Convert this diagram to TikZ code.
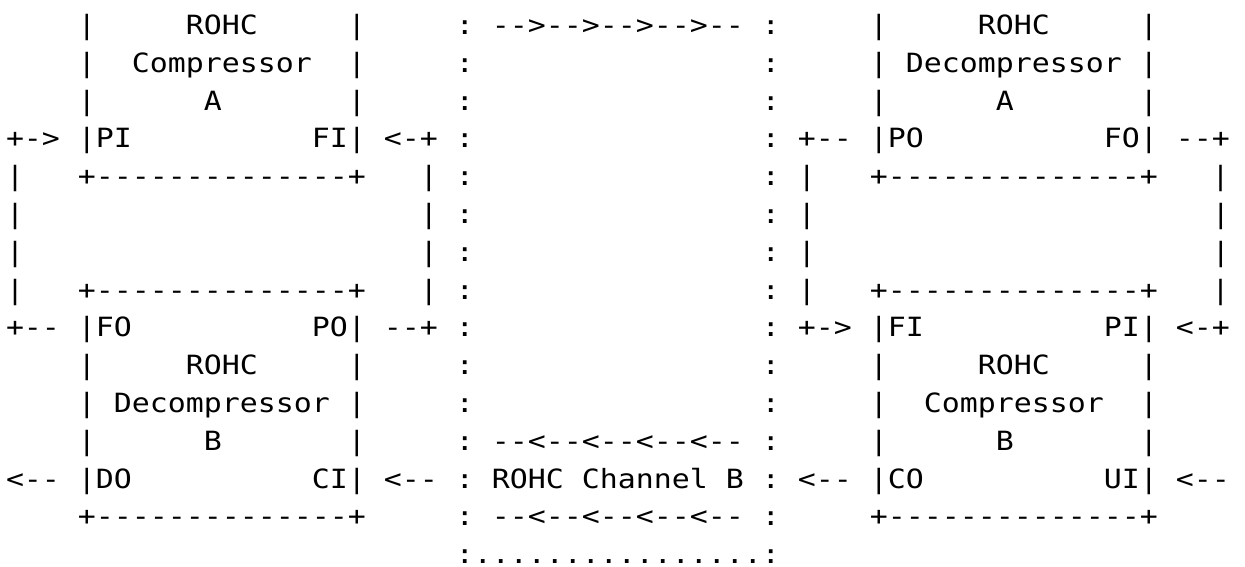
\documentclass[tikz,border=0pt]{standalone}
\usepackage{fontspec}
\setmonofont{DejaVu Sans Mono}[FakeStretch=1.128]
\begingroup
\obeyspaces%
\gdef\lineA{    |     ROHC     |     : -->-->-->-->-- :     |     ROHC     |}%
\gdef\lineB{    |  Compressor  |     :                :     | Decompressor |}%
\gdef\lineC{    |      A       |     :                :     |      A       |}%
\gdef\lineD{+-> |PI          FI| <-+ :                : +-- |PO          FO| --+}%
\gdef\lineE{|   +--------------+   | :                : |   +--------------+   |}%
\gdef\lineF{|                      | :                : |                      |}%
\gdef\lineG{+-- |FO          PO| --+ :                : +-> |FI          PI| <-+}%
\gdef\lineH{    |     ROHC     |     :                :     |     ROHC     |}%
\gdef\lineI{    | Decompressor |     :                :     |  Compressor  |}%
\gdef\lineJ{    |      B       |     : --<--<--<--<-- :     |      B       |}%
\gdef\lineK{<-- |DO          CI| <-- : ROHC Channel B : <-- |CO          UI| <--}%
\gdef\lineL{    +--------------+     : --<--<--<--<-- :     +--------------+}%
\gdef\lineM{                         :................:}%
\endgroup
\tikzset{ascii/.style={anchor=base west, inner sep=0pt, outer sep=0pt,
  font=\ttfamily\frenchspacing\fontsize{26.5}{32}\selectfont, text=black}}
\begin{document}
\begin{tikzpicture}[x=1pt,y=1pt]
\useasboundingbox (0,0) rectangle (1245,-566);
\node[ascii] (l1)  at (6,-34.4)  {\null\lineA};
\node[ascii] (l2)  at (6,-72.2)  {\null\lineB};
\node[ascii] (l3)  at (6,-110.0) {\null\lineC};
\node[ascii] (l4)  at (6,-147.8) {\null\lineD};
\node[ascii] (l5)  at (6,-185.6) {\null\lineE};
\node[ascii] (l6)  at (6,-223.4) {\null\lineF};
\node[ascii] (l7)  at (6,-261.2) {\null\lineF};
\node[ascii] (l8)  at (6,-299.0) {\null\lineE};
\node[ascii] (l9)  at (6,-336.8) {\null\lineG};
\node[ascii] (l10) at (6,-374.6) {\null\lineH};
\node[ascii] (l11) at (6,-412.4) {\null\lineI};
\node[ascii] (l12) at (6,-450.2) {\null\lineJ};
\node[ascii] (l13) at (6,-488.0) {\null\lineK};
\node[ascii] (l14) at (6,-525.8) {\null\lineL};
\node[ascii] (l15) at (6,-563.0) {\null\lineM};
\end{tikzpicture}
\end{document}
